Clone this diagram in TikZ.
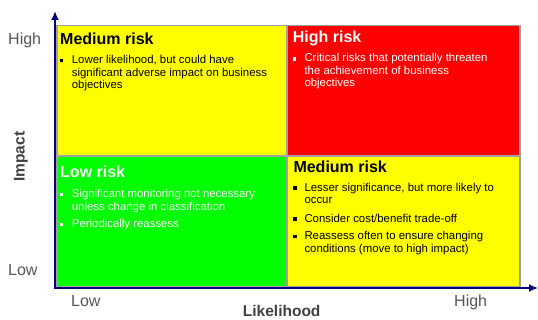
\documentclass[tikz,border=0pt]{standalone}
\usepackage{fontspec}
\setmainfont{Liberation Sans}
\usetikzlibrary{arrows.meta}

\definecolor{riskyellow}{HTML}{FFFF00}
\definecolor{riskred}{HTML}{FF0000}
\definecolor{riskgreen}{HTML}{00FF00}
\definecolor{gridgray}{HTML}{A0A0A0}
\definecolor{axisnavy}{HTML}{000080}
\definecolor{labelgray}{HTML}{555555}
\definecolor{titlegray}{HTML}{404040}

% one bullet line block: top-aligned paragraph whose baseline is its first line
\newcommand{\itemtext}[1]{\parbox[t]{230pt}{\fontsize{11.4}{12.4}\selectfont\raggedright #1}}

\tikzset{
  quad/.style={draw=gridgray, line width=1.3pt},
  axisline/.style={draw=axisnavy, line width=2.6pt, -{Latex[length=9pt,width=8pt]}},
  risktitle/.style={anchor=base west, inner sep=0pt, font=\fontsize{16}{18}\selectfont\bfseries},
  riskitem/.style={anchor=base west, inner sep=0pt},
  bulletsq/.style={inner sep=0pt, minimum size=3.2pt, draw=none},
  scalelabel/.style={anchor=base west, inner sep=0pt, text=labelgray, font=\fontsize{16}{18}\selectfont},
  axistitle/.style={inner sep=0pt, text=titlegray, font=\fontsize{15.5}{18}\selectfont\bfseries},
}

\begin{document}
\begin{tikzpicture}[x=1pt, y=-1pt]
  \useasboundingbox (0,0) rectangle (538,320);

  % quadrants
  \path[quad, fill=riskyellow] (57,25.5) rectangle (287,156);
  \path[quad, fill=riskred]    (287,25.5) rectangle (520,156);
  \path[quad, fill=riskgreen]  (57,156) rectangle (287,287);
  \path[quad, fill=riskyellow] (287,156) rectangle (520,287);

  % axes
  \coordinate (origin) at (55,288);
  \coordinate (ytip) at (55,11);
  \coordinate (xtip) at (538,288);
  \draw[axisline] ([yshift=-1.3pt]origin) -- (ytip);
  \draw[axisline] ([xshift=-1.3pt]origin) -- (xtip);

  % scale labels
  \node[scalelabel] (yhigh) at (8,45) {High};
  \node[scalelabel] (ylow)  at (8,276) {Low};
  \node[scalelabel] (xlow)  at (71,306.5) {Low};
  \node[scalelabel] (xhigh) at (454,306.5) {High};
  \node[axistitle, anchor=base] (xtitle) at (281.7,316.5) {Likelihood};
  \node[axistitle, rotate=90] (ytitle) at (21,156.7) {Impact};

  % upper left: medium risk
  \node[risktitle] (mr1) at (60,45) {Medium risk};
  \node[bulletsq, fill=black] (b1) at (61.8,60.5) {};
  \node[riskitem] (t1) at (71.7,64) {\itemtext{Lower likelihood, but could have\\significant adverse impact on business\\objectives}};

  % upper right: high risk
  \node[risktitle, text=white] (hr) at (292.7,42.5) {High risk};
  \node[bulletsq, fill=white] (b2) at (294.5,59) {};
  \node[riskitem, text=white] (t2) at (304.3,62) {\itemtext{Critical risks that potentially threaten\\the achievement of business\\objectives}};

  % lower left: low risk
  \node[risktitle, text=white] (lr) at (60,178) {Low risk};
  \node[bulletsq, fill=white] (b3) at (61.8,194.7) {};
  \node[riskitem, text=white] (t3) at (71.7,198) {\itemtext{Significant monitoring not necessary\\unless change in classification}};
  \node[bulletsq, fill=white] (b4) at (61.8,224.7) {};
  \node[riskitem, text=white] (t4) at (71.7,228) {\itemtext{Periodically reassess}};

  % lower right: medium risk
  \node[risktitle] (mr2) at (293.3,172.5) {Medium risk};
  \node[bulletsq, fill=black] (b5) at (295,188) {};
  \node[riskitem] (t5) at (304.3,191.3) {\itemtext{Lesser significance, but more likely to\\occur}};
  \node[bulletsq, fill=black] (b6) at (295,219) {};
  \node[riskitem] (t6) at (304.3,222.3) {\itemtext{Consider cost/benefit trade-off}};
  \node[bulletsq, fill=black] (b7) at (295,236.7) {};
  \node[riskitem] (t7) at (304.3,240) {\itemtext{Reassess often to ensure changing\\conditions (move to high impact)}};
\end{tikzpicture}
\end{document}
